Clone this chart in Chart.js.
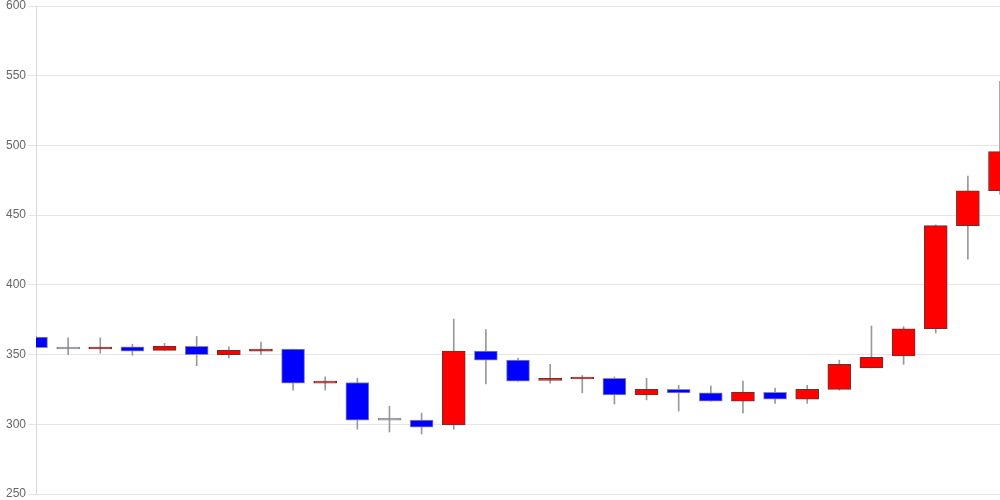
<!DOCTYPE html>
<html>
<head>
<meta charset="utf-8">
<script src="https://cdn.jsdelivr.net/npm/chart.js@4"></script>
<style>
    html, body { margin: 0; padding: 0; background: #fff; }
    #wrap { width: 1000px; height: 500px; }
</style>
</head>
<body>
<div id="wrap"><canvas id="candle-chart"></canvas></div>
<script>
// one entry per trading day
const days = [
    "1", "2", "3", "4", "5", "6", "7", "8", "9", "10",
    "11", "12", "13", "14", "15", "16", "17", "18", "19", "20",
    "21", "22", "23", "24", "25", "26", "27", "28", "29", "30", "31"
];
const open = [
    362.5, 354, 354, 355.5, 353, 356, 350, 352.5, 354, 329.5,
    330, 303, 303, 299.5, 352.5, 346, 331.5, 332.5, 333, 321,
    325, 322.5, 316.5, 323, 318, 325, 340.5, 349, 368.5, 442.5, 467.5
];
const close = [
    355, 354, 355, 352.5, 356, 350, 353, 354, 329.5, 330.5,
    303, 303, 298, 352.5, 346, 331, 332.5, 333, 321, 325,
    322.5, 316.5, 323, 318, 325, 343, 348, 368.5, 442.5, 467.5, 495.5
];
const high = [
    363, 362, 362, 357.5, 358, 363, 355.5, 359, 354, 334,
    333, 313, 308, 375.5, 368, 347.5, 343, 335, 334, 333,
    328, 327.5, 331, 326, 328, 346, 370.5, 370, 443, 478, 546
];
const low = [
    355, 350, 351, 349.5, 353, 342, 347.5, 350, 324.5, 324.5,
    296.5, 294.5, 293, 296.5, 329, 331, 329.5, 322.5, 314.5, 317.5,
    309.5, 316.5, 308, 315, 315, 324.5, 340.5, 343, 365.5, 418.5, 465
];
const yTicks = [250, 300, 350, 400, 450, 500, 550, 600];

const bodyColor = (o, c) => {
    if (c > o) return "#ff0000";
    if (c < o) return "#0000ff";
    return "#888888";
};

const ctx = document.getElementById("candle-chart");
new Chart(ctx, {
    type: "bar",
    data: {
        labels: days,
        datasets: [
            {
                // bodies, drawn on top
                data: open.map((o, i) => [o, close[i]]),
                backgroundColor: open.map((o, i) => bodyColor(o, close[i])),
                borderColor: open.map((o, i) => close[i] > o ? "#6a3030" : "#8a8a9a"),
                borderWidth: 1,
                borderSkipped: false,
                barThickness: 23,
                minBarLength: 2,
                grouped: false,
                clip: 0
            },
            {
                // wicks
                data: low.map((l, i) => [l, high[i]]),
                backgroundColor: "#999999",
                borderWidth: 0,
                barThickness: 1,
                grouped: false,
                clip: 0
            }
        ]
    },
    options: {
        responsive: true,
        maintainAspectRatio: false,
        animation: false,
        events: [],
        layout: {padding: {top: 0, right: 0, bottom: 0, left: 4}},
        plugins: {
            legend: {display: false},
            tooltip: {enabled: false}
        },
        scales: {
            x: {
                display: false,
                offset: false
            },
            y: {
                min: 250,
                max: 600,
                afterBuildTicks: (axis) => {
                    axis.ticks = yTicks.map(v => ({value: v}));
                },
                afterFit: (axis) => {
                    axis.paddingTop = 6;
                    axis.paddingBottom = 6;
                },
                grid: {color: "rgba(0,0,0,0.1)", tickLength: 8},
                border: {display: true, color: "rgba(0,0,0,0.15)"},
                ticks: {
                    color: "#666",
                    padding: 2,
                    font: {family: "'Liberation Sans', Arial, sans-serif", size: 12, lineHeight: 1}
                }
            }
        }
    }
});
</script>
</body>
</html>
